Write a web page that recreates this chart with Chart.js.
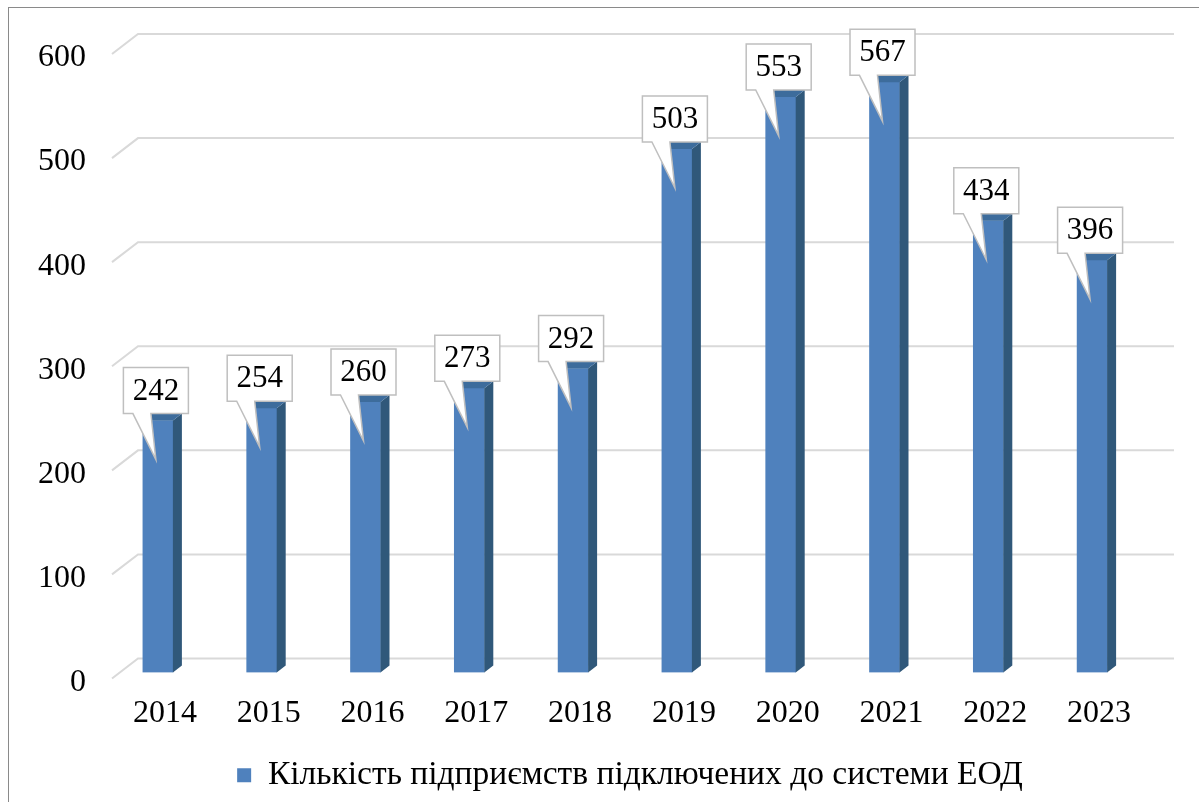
<!DOCTYPE html>
<html>
<head>
<meta charset="utf-8">
<script src="https://cdn.jsdelivr.net/npm/chart.js@4.4.1/dist/chart.umd.min.js"></script>
<style>
  html, body { margin: 0; padding: 0; background: #ffffff; }
  #wrap { position: relative; width: 1199px; height: 802px; overflow: hidden; }
  #frame { position: absolute; left: 8px; top: 7px; width: 1300px; height: 900px; border-left: 1px solid #8a8a8a; border-top: 1px solid #8a8a8a; }
  canvas { position: absolute; left: 0; top: 0; }
</style>
</head>
<body>
<div id="wrap">
  <div id="frame"></div>
  <canvas id="c" width="1199" height="802"></canvas>
</div>
<script>
const categories = ['2014', '2015', '2016', '2017', '2018', '2019', '2020', '2021', '2022', '2023'];
const values = [242, 254, 260, 273, 292, 503, 553, 567, 434, 396];
const seriesName = 'Кількість підприємств підключених до системи ЕОД';
const yTicks = [0, 100, 200, 300, 400, 500, 600];

const FONT = "'Liberation Serif', 'Times New Roman', serif";
const FRONT = '#4f81bd', SIDE = '#30587a', TOP = '#3d6c9c';
const DX = 9, DY = 7;

const gridPlugin = {
  id: 'grid3d',
  beforeDatasetsDraw(chart) {
    const ctx = chart.ctx, y = chart.scales.y, a = chart.chartArea;
    ctx.save();
    ctx.strokeStyle = '#d9d9d9';
    ctx.lineWidth = 2;
    yTicks.forEach(v => {
      const yb = y.getPixelForValue(v);
      ctx.beginPath();
      ctx.moveTo(a.left + 6, yb + 6);
      ctx.lineTo(a.left + 32, yb - 14);
      ctx.lineTo(a.right + 30, yb - 14);
      ctx.stroke();
    });
    ctx.restore();
  },
  afterDatasetsDraw(chart) {
    const ctx = chart.ctx;
    const meta = chart.getDatasetMeta(0);
    ctx.save();
    meta.data.forEach((bar, i) => {
      const p = bar.getProps(['x', 'y', 'base', 'width'], true);
      const l = p.x - p.width / 2, r = p.x + p.width / 2, t = p.y, b = p.base;
      ctx.fillStyle = SIDE;
      ctx.beginPath();
      ctx.moveTo(r, t); ctx.lineTo(r + DX, t - DY); ctx.lineTo(r + DX, b - DY); ctx.lineTo(r, b);
      ctx.closePath(); ctx.fill();
      ctx.fillStyle = TOP;
      ctx.beginPath();
      ctx.moveTo(l, t); ctx.lineTo(r, t); ctx.lineTo(r + DX, t - DY); ctx.lineTo(l + DX, t - DY);
      ctx.closePath(); ctx.fill();
    });
    meta.data.forEach((bar, i) => {
      const p = bar.getProps(['x', 'y'], true);
      const cx = p.x - 2, bw = 65, bh = 46;
      const bottom = p.y - DY, top = bottom - bh;
      const left = cx - bw / 2, right = cx + bw / 2;
      const tipX = p.x - 2, tipY = p.y + 39;
      ctx.beginPath();
      ctx.moveTo(left, top);
      ctx.lineTo(right, top);
      ctx.lineTo(right, bottom);
      ctx.lineTo(cx - 5, bottom);
      ctx.lineTo(tipX, tipY);
      ctx.lineTo(cx - 23, bottom);
      ctx.lineTo(left, bottom);
      ctx.closePath();
      ctx.fillStyle = '#ffffff';
      ctx.fill();
      ctx.strokeStyle = '#bfbfbf';
      ctx.lineWidth = 1.5;
      ctx.stroke();
      ctx.fillStyle = '#000000';
      ctx.font = '31px ' + FONT;
      ctx.textAlign = 'center';
      ctx.textBaseline = 'middle';
      ctx.fillText(String(values[i]), cx, (top + bottom) / 2 + 1);
    });
    ctx.restore();
  },
  afterLayout(chart) {
    const lg = chart.legend;
    if (lg) { lg.left += 54; lg.right += 54; }
  }
};

new Chart(document.getElementById('c'), {
  type: 'bar',
  data: {
    labels: categories,
    datasets: [{
      label: seriesName,
      data: values,
      backgroundColor: FRONT,
      borderWidth: 0,
      barThickness: 30
    }]
  },
  options: {
    responsive: false,
    animation: false,
    events: [],
    layout: { padding: { left: 8, right: 55, top: 48, bottom: 0 } },
    scales: {
      x: {
        grid: { display: false, drawTicks: false },
        border: { display: false },
        ticks: { color: '#000', font: { family: FONT, size: 32 }, padding: 22, labelOffset: 7, maxRotation: 0 },
        afterFit(s) { s.height = 79; }
      },
      y: {
        min: 0, max: 600,
        grid: { display: false, drawTicks: false },
        border: { display: false },
        ticks: { color: '#000', font: { family: FONT, size: 32 }, padding: 20, stepSize: 100, labelOffset: 10 },
        afterFit(s) { s.width = 98; }
      }
    },
    plugins: {
      tooltip: { enabled: false },
      legend: {
        position: 'bottom',
        labels: { color: '#000', font: { family: FONT, size: 33.5 }, boxWidth: 14, boxHeight: 14, padding: 7 }
      }
    }
  },
  plugins: [gridPlugin]
});
</script>
</body>
</html>
